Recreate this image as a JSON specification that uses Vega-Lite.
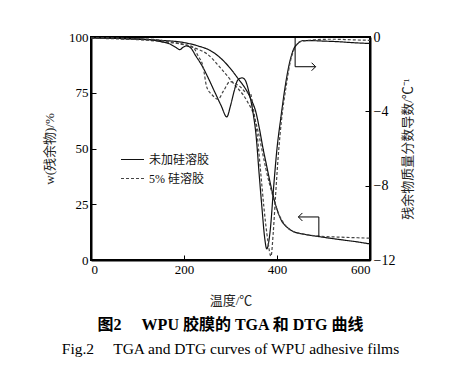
{
  "$schema": "https://vega.github.io/schema/vega-lite/v6.json",
  "width": 279,
  "height": 223,
  "autosize": {"type": "none"},
  "padding": {"left": 91, "top": 37, "right": 97, "bottom": 110},
  "background": "#ffffff",
  "title": {
    "text": "图2　 WPU 胶膜的 TGA 和 DTG 曲线",
    "subtitle": "Fig.2　 TGA and DTG curves of WPU adhesive films",
    "orient": "bottom",
    "anchor": "middle",
    "frame": "group",
    "fontSize": 16,
    "fontWeight": "bold",
    "subtitleFontSize": 15.5,
    "subtitlePadding": 9,
    "offset": 10,
    "color": "#000",
    "subtitleColor": "#000"
  },
  "datasets": {
    "tga": [
      {"s": "未加硅溶胶", "T": 0, "w": 99.6}, {"s": "未加硅溶胶", "T": 50, "w": 99.4}, {"s": "未加硅溶胶", "T": 100, "w": 99.0},
      {"s": "未加硅溶胶", "T": 150, "w": 98.5}, {"s": "未加硅溶胶", "T": 200, "w": 97.5}, {"s": "未加硅溶胶", "T": 230, "w": 96.0},
      {"s": "未加硅溶胶", "T": 256, "w": 94.0}, {"s": "未加硅溶胶", "T": 284, "w": 89.5}, {"s": "未加硅溶胶", "T": 314, "w": 82.0},
      {"s": "未加硅溶胶", "T": 342, "w": 73.0}, {"s": "未加硅溶胶", "T": 355, "w": 66.0}, {"s": "未加硅溶胶", "T": 363, "w": 58.0},
      {"s": "未加硅溶胶", "T": 370, "w": 50.0}, {"s": "未加硅溶胶", "T": 378, "w": 42.0}, {"s": "未加硅溶胶", "T": 386, "w": 34.0},
      {"s": "未加硅溶胶", "T": 394, "w": 27.0}, {"s": "未加硅溶胶", "T": 402, "w": 21.5}, {"s": "未加硅溶胶", "T": 410, "w": 17.5},
      {"s": "未加硅溶胶", "T": 420, "w": 15.0}, {"s": "未加硅溶胶", "T": 435, "w": 12.8}, {"s": "未加硅溶胶", "T": 460, "w": 11.5},
      {"s": "未加硅溶胶", "T": 490, "w": 10.5}, {"s": "未加硅溶胶", "T": 530, "w": 9.3}, {"s": "未加硅溶胶", "T": 570, "w": 8.2},
      {"s": "未加硅溶胶", "T": 600, "w": 7.2},
      {"s": "5% 硅溶胶", "T": 0, "w": 99.5}, {"s": "5% 硅溶胶", "T": 50, "w": 99.2}, {"s": "5% 硅溶胶", "T": 100, "w": 98.8},
      {"s": "5% 硅溶胶", "T": 150, "w": 98.0}, {"s": "5% 硅溶胶", "T": 200, "w": 96.5}, {"s": "5% 硅溶胶", "T": 230, "w": 94.5},
      {"s": "5% 硅溶胶", "T": 249, "w": 92.5}, {"s": "5% 硅溶胶", "T": 277, "w": 86.5}, {"s": "5% 硅溶胶", "T": 305, "w": 79.5},
      {"s": "5% 硅溶胶", "T": 335, "w": 71.5}, {"s": "5% 硅溶胶", "T": 350, "w": 65.0}, {"s": "5% 硅溶胶", "T": 360, "w": 57.0},
      {"s": "5% 硅溶胶", "T": 368, "w": 49.0}, {"s": "5% 硅溶胶", "T": 376, "w": 41.0}, {"s": "5% 硅溶胶", "T": 384, "w": 34.0},
      {"s": "5% 硅溶胶", "T": 392, "w": 28.0}, {"s": "5% 硅溶胶", "T": 400, "w": 22.5}, {"s": "5% 硅溶胶", "T": 410, "w": 18.0},
      {"s": "5% 硅溶胶", "T": 420, "w": 15.0}, {"s": "5% 硅溶胶", "T": 435, "w": 12.8}, {"s": "5% 硅溶胶", "T": 460, "w": 11.5},
      {"s": "5% 硅溶胶", "T": 490, "w": 10.7}, {"s": "5% 硅溶胶", "T": 530, "w": 10.3}, {"s": "5% 硅溶胶", "T": 570, "w": 10.0},
      {"s": "5% 硅溶胶", "T": 600, "w": 9.8}
    ],
    "dtg": [
      {"s": "未加硅溶胶", "T": 0, "d": -0.05}, {"s": "未加硅溶胶", "T": 30, "d": -0.05}, {"s": "未加硅溶胶", "T": 60, "d": -0.08},
      {"s": "未加硅溶胶", "T": 100, "d": -0.1}, {"s": "未加硅溶胶", "T": 130, "d": -0.15}, {"s": "未加硅溶胶", "T": 150, "d": -0.25},
      {"s": "未加硅溶胶", "T": 170, "d": -0.38}, {"s": "未加硅溶胶", "T": 182, "d": -0.55}, {"s": "未加硅溶胶", "T": 191, "d": -0.68},
      {"s": "未加硅溶胶", "T": 198, "d": -0.55}, {"s": "未加硅溶胶", "T": 206, "d": -0.48}, {"s": "未加硅溶胶", "T": 215, "d": -0.6},
      {"s": "未加硅溶胶", "T": 225, "d": -1.0}, {"s": "未加硅溶胶", "T": 240, "d": -1.6}, {"s": "未加硅溶胶", "T": 252, "d": -2.2},
      {"s": "未加硅溶胶", "T": 265, "d": -2.9}, {"s": "未加硅溶胶", "T": 280, "d": -3.7}, {"s": "未加硅溶胶", "T": 292, "d": -4.3},
      {"s": "未加硅溶胶", "T": 300, "d": -3.7}, {"s": "未加硅溶胶", "T": 308, "d": -2.9}, {"s": "未加硅溶胶", "T": 316, "d": -2.3},
      {"s": "未加硅溶胶", "T": 325, "d": -2.2}, {"s": "未加硅溶胶", "T": 331, "d": -2.3}, {"s": "未加硅溶胶", "T": 340, "d": -3.0},
      {"s": "未加硅溶胶", "T": 348, "d": -4.0}, {"s": "未加硅溶胶", "T": 355, "d": -5.3}, {"s": "未加硅溶胶", "T": 362, "d": -7.5},
      {"s": "未加硅溶胶", "T": 368, "d": -9.3}, {"s": "未加硅溶胶", "T": 373, "d": -10.7}, {"s": "未加硅溶胶", "T": 378, "d": -11.4},
      {"s": "未加硅溶胶", "T": 385, "d": -10.5}, {"s": "未加硅溶胶", "T": 393, "d": -8.0}, {"s": "未加硅溶胶", "T": 400, "d": -6.0},
      {"s": "未加硅溶胶", "T": 408, "d": -4.4}, {"s": "未加硅溶胶", "T": 418, "d": -2.6}, {"s": "未加硅溶胶", "T": 426, "d": -1.5},
      {"s": "未加硅溶胶", "T": 435, "d": -0.7}, {"s": "未加硅溶胶", "T": 445, "d": -0.35}, {"s": "未加硅溶胶", "T": 455, "d": -0.2},
      {"s": "未加硅溶胶", "T": 480, "d": -0.2}, {"s": "未加硅溶胶", "T": 500, "d": -0.22}, {"s": "未加硅溶胶", "T": 530, "d": -0.25},
      {"s": "未加硅溶胶", "T": 560, "d": -0.3}, {"s": "未加硅溶胶", "T": 600, "d": -0.35},
      {"s": "5% 硅溶胶", "T": 0, "d": -0.05}, {"s": "5% 硅溶胶", "T": 30, "d": -0.05}, {"s": "5% 硅溶胶", "T": 60, "d": -0.06},
      {"s": "5% 硅溶胶", "T": 100, "d": -0.1}, {"s": "5% 硅溶胶", "T": 130, "d": -0.12}, {"s": "5% 硅溶胶", "T": 150, "d": -0.18},
      {"s": "5% 硅溶胶", "T": 180, "d": -0.3}, {"s": "5% 硅溶胶", "T": 200, "d": -0.4}, {"s": "5% 硅溶胶", "T": 219, "d": -0.54},
      {"s": "5% 硅溶胶", "T": 230, "d": -1.0}, {"s": "5% 硅溶胶", "T": 241, "d": -1.6}, {"s": "5% 硅溶胶", "T": 249, "d": -2.7},
      {"s": "5% 硅溶胶", "T": 260, "d": -3.1}, {"s": "5% 硅溶胶", "T": 273, "d": -3.35}, {"s": "5% 硅溶胶", "T": 285, "d": -2.9},
      {"s": "5% 硅溶胶", "T": 299, "d": -2.4}, {"s": "5% 硅溶胶", "T": 310, "d": -2.5}, {"s": "5% 硅溶胶", "T": 322, "d": -2.7},
      {"s": "5% 硅溶胶", "T": 335, "d": -3.0}, {"s": "5% 硅溶胶", "T": 342, "d": -3.0}, {"s": "5% 硅溶胶", "T": 350, "d": -4.0},
      {"s": "5% 硅溶胶", "T": 357, "d": -5.2}, {"s": "5% 硅溶胶", "T": 365, "d": -7.3}, {"s": "5% 硅溶胶", "T": 372, "d": -9.2},
      {"s": "5% 硅溶胶", "T": 380, "d": -10.9}, {"s": "5% 硅溶胶", "T": 387, "d": -11.8}, {"s": "5% 硅溶胶", "T": 392, "d": -10.5},
      {"s": "5% 硅溶胶", "T": 397, "d": -8.5}, {"s": "5% 硅溶胶", "T": 403, "d": -6.3}, {"s": "5% 硅溶胶", "T": 410, "d": -4.4},
      {"s": "5% 硅溶胶", "T": 420, "d": -2.6}, {"s": "5% 硅溶胶", "T": 428, "d": -1.4}, {"s": "5% 硅溶胶", "T": 438, "d": -0.6},
      {"s": "5% 硅溶胶", "T": 450, "d": -0.25}, {"s": "5% 硅溶胶", "T": 480, "d": -0.15}, {"s": "5% 硅溶胶", "T": 520, "d": -0.12},
      {"s": "5% 硅溶胶", "T": 560, "d": -0.15}, {"s": "5% 硅溶胶", "T": 600, "d": -0.18}
    ],
    "arrowTga": [
      {"o": 1, "T": 490, "w": 10.3}, {"o": 2, "T": 490, "w": 19.3}, {"o": 3, "T": 446, "w": 19.3}
    ],
    "headTga": [{"T": 446, "w": 19.3}],
    "arrowDtg": [
      {"o": 1, "T": 439, "d": 0}, {"o": 2, "T": 439, "d": -1.6}, {"o": 3, "T": 483, "d": -1.6}
    ],
    "headDtg": [{"T": 483, "d": -1.6}]
  },
  "layer": [
    {
      "layer": [
        {
          "data": {"name": "tga"},
          "mark": {"type": "line", "strokeWidth": 1.2, "interpolate": "monotone"},
          "encoding": {
            "x": {"field": "T", "type": "quantitative", "scale": {"domain": [0, 600]},
                  "axis": {"title": "温度/℃", "values": [0, 200, 400, 600], "titlePadding": 18}},
            "y": {"field": "w", "type": "quantitative", "scale": {"domain": [0, 100]},
                  "axis": {"title": "w(残余物)/%", "values": [0, 25, 50, 75, 100], "titlePadding": 12}},
            "strokeDash": {"field": "s", "type": "nominal", "scale": {"domain": ["未加硅溶胶", "5% 硅溶胶"], "range": [[1, 0], [3, 2]]},
                           "legend": {"title": null}},
            "color": {"field": "s", "type": "nominal", "scale": {"domain": ["未加硅溶胶", "5% 硅溶胶"], "range": ["#111111", "#444444"]},
                      "legend": {"title": null}}
          }
        },
        {
          "data": {"name": "arrowTga"},
          "mark": {"type": "line", "strokeWidth": 1, "color": "#000"},
          "encoding": {
            "x": {"field": "T", "type": "quantitative"},
            "y": {"field": "w", "type": "quantitative"},
            "order": {"field": "o", "type": "quantitative"}
          }
        },
        {
          "data": {"name": "headTga"},
          "mark": {"type": "point", "shape": "M1,-1L0,0L1,1", "filled": false, "stroke": "#000", "strokeWidth": 1, "size": 64, "opacity": 1},
          "encoding": {
            "x": {"field": "T", "type": "quantitative"},
            "y": {"field": "w", "type": "quantitative"}
          }
        }
      ]
    },
    {
      "layer": [
        {
          "data": {"name": "dtg"},
          "mark": {"type": "line", "strokeWidth": 1.2, "interpolate": "monotone"},
          "encoding": {
            "x": {"field": "T", "type": "quantitative"},
            "y": {"field": "d", "type": "quantitative", "scale": {"domain": [-12, 0]},
                  "axis": {"orient": "right", "title": "残余物质量分数导数/℃⁻¹", "values": [0, -4, -8, -12], "titleAngle": 270, "titlePadding": 20, "labelFontSize": 14}},
            "strokeDash": {"field": "s", "type": "nominal"},
            "color": {"field": "s", "type": "nominal"}
          }
        },
        {
          "data": {"name": "arrowDtg"},
          "mark": {"type": "line", "strokeWidth": 1, "color": "#000"},
          "encoding": {
            "x": {"field": "T", "type": "quantitative"},
            "y": {"field": "d", "type": "quantitative"},
            "order": {"field": "o", "type": "quantitative"}
          }
        },
        {
          "data": {"name": "headDtg"},
          "mark": {"type": "point", "shape": "M-1,-1L0,0L-1,1", "filled": false, "stroke": "#000", "strokeWidth": 1, "size": 64, "opacity": 1},
          "encoding": {
            "x": {"field": "T", "type": "quantitative"},
            "y": {"field": "d", "type": "quantitative"}
          }
        }
      ]
    }
  ],
  "resolve": {"scale": {"y": "independent"}},
  "config": {
    "font": "Liberation Serif, Noto Sans CJK SC",
    "view": {"stroke": "#000", "strokeWidth": 2},
    "axis": {
      "grid": false,
      "domainColor": "#000",
      "domainWidth": 2,
      "tickColor": "#000",
      "tickSize": -5,
      "labelPadding": 8,
      "labelFontSize": 13,
      "labelColor": "#000",
      "titleFontSize": 13,
      "titleFontWeight": "normal",
      "titleColor": "#222"
    },
    "legend": {
      "orient": "none",
      "legendX": 29,
      "legendY": 110,
      "symbolType": "stroke",
      "symbolSize": 529,
      "symbolStrokeWidth": 1.2,
      "labelFontSize": 12,
      "labelColor": "#111",
      "rowPadding": 0,
      "labelOffset": 4
    }
  }
}
